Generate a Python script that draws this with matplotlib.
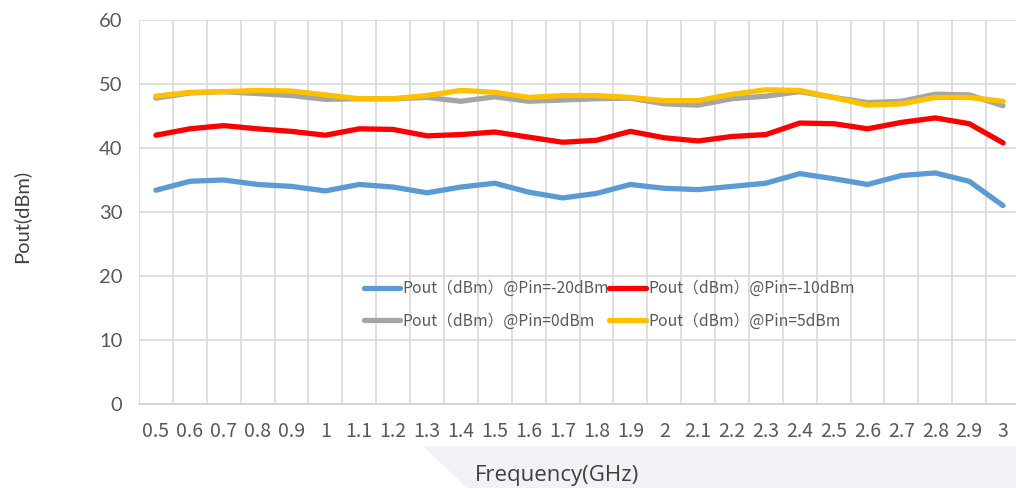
import matplotlib.pyplot as plt
import matplotlib.patches as mpatches
import numpy as np

freqs = ["0.5", "0.6", "0.7", "0.8", "0.9", "1", "1.1", "1.2", "1.3", "1.4",
         "1.5", "1.6", "1.7", "1.8", "1.9", "2", "2.1", "2.2", "2.3", "2.4",
         "2.5", "2.6", "2.7", "2.8", "2.9", "3"]

pout_m20 = [33.4, 34.8, 35.0, 34.3, 34.0, 33.3, 34.3, 33.9, 33.0, 33.9,
            34.5, 33.1, 32.2, 32.9, 34.3, 33.7, 33.5, 34.0, 34.5, 36.0,
            35.2, 34.3, 35.7, 36.1, 34.8, 31.0]
pout_m10 = [42.0, 43.0, 43.5, 43.0, 42.6, 42.0, 43.0, 42.9, 41.9, 42.1,
            42.5, 41.7, 40.9, 41.2, 42.6, 41.6, 41.1, 41.8, 42.1, 43.9,
            43.8, 43.0, 44.0, 44.7, 43.8, 40.8]
pout_0 = [47.8, 48.6, 48.8, 48.5, 48.2, 47.6, 47.7, 47.7, 47.9, 47.3,
          48.0, 47.3, 47.5, 47.7, 47.8, 46.9, 46.7, 47.7, 48.1, 48.8,
          47.9, 47.1, 47.3, 48.4, 48.3, 46.6]
pout_5 = [48.1, 48.7, 48.8, 49.0, 48.9, 48.3, 47.7, 47.7, 48.2, 49.0,
          48.7, 47.9, 48.2, 48.2, 47.9, 47.4, 47.4, 48.4, 49.1, 49.0,
          47.9, 46.7, 46.9, 47.9, 47.9, 47.3]

labels = ["Pout（dBm）@Pin=-20dBm", "Pout（dBm）@Pin=-10dBm",
          "Pout（dBm）@Pin=0dBm", "Pout（dBm）@Pin=5dBm"]
colors = ["#5b9bd5", "#ff0000", "#a5a5a5", "#ffc000"]

narrow = ["Liberation Sans Narrow", "Noto Sans CJK SC", "DejaVu Sans"]

fig = plt.figure(figsize=(10.16, 4.88), dpi=100)
# faint background shape behind the x label
fig.patches.append(mpatches.Polygon(
    [(423 / 1016, 1 - 446 / 488), (1.0, 1 - 446 / 488), (1.0, 0.0), (467 / 1016, 0.0)],
    closed=True, transform=fig.transFigure, facecolor="#f1f2f6", edgecolor="none", zorder=0))

ax = fig.add_axes([139 / 1016, 84 / 488, 881 / 1016, 384 / 488])
ax.patch.set_alpha(0)

x = np.arange(len(freqs))
lines = []
for series, lab, col in zip([pout_m20, pout_m10, pout_0, pout_5], labels, colors):
    ln, = ax.plot(x, series, color=col, lw=3.8, label=lab, solid_joinstyle="round",
                  solid_capstyle="round", zorder=3)
    lines.append(ln)

ax.set_xlim(-0.5, len(freqs) - 0.5)
ax.set_ylim(0, 60)
ax.set_yticks(range(0, 61, 10))
ax.set_xticks(x)
ax.set_xticklabels(freqs, fontfamily=narrow, fontsize=14, color="#595959")
ax.set_xticks(np.arange(-0.5, len(freqs), 1), minor=True)
for t in ax.get_yticklabels():
    t.set_fontfamily("Lato")
    t.set_fontsize(14.5)
    t.set_color("#595959")

ax.grid(True, which="minor", axis="x", color="#d9d9d9", lw=1.2)
ax.grid(True, which="major", axis="y", color="#d9d9d9", lw=1.2)
ax.tick_params(which="both", length=0)
ax.tick_params(axis="x", pad=12)
ax.tick_params(axis="y", pad=12)
for s in ["top", "right", "left"]:
    ax.spines[s].set_visible(False)
ax.spines["bottom"].set_color("#d0d0d0")
ax.spines["bottom"].set_linewidth(1.2)

fig.text(21 / 1016, 1 - 216 / 488, "Pout(dBm)", rotation=90, ha="center", va="center",
         fontfamily="Lato", fontsize=14.5, color="#404040")
fig.text(557 / 1016, 1 - 476 / 488, "Frequency(GHz)", ha="center", va="center",
         fontfamily="Open Sans", fontsize=16, color="#404040")

# legend is filled column by column, so order the handles for row-wise reading
order = [0, 2, 1, 3]
ax.legend([lines[i] for i in order], [labels[i] for i in order],
          loc="center", bbox_to_anchor=(609 / 1016, 1 - 305 / 488),
          bbox_transform=fig.transFigure, ncol=2, frameon=False,
          prop={"family": narrow, "size": 11.3}, labelcolor="#595959",
          handlelength=2.3, handletextpad=0.15, columnspacing=0.05, labelspacing=1.0)

fig.savefig("out.png", dpi=100)
